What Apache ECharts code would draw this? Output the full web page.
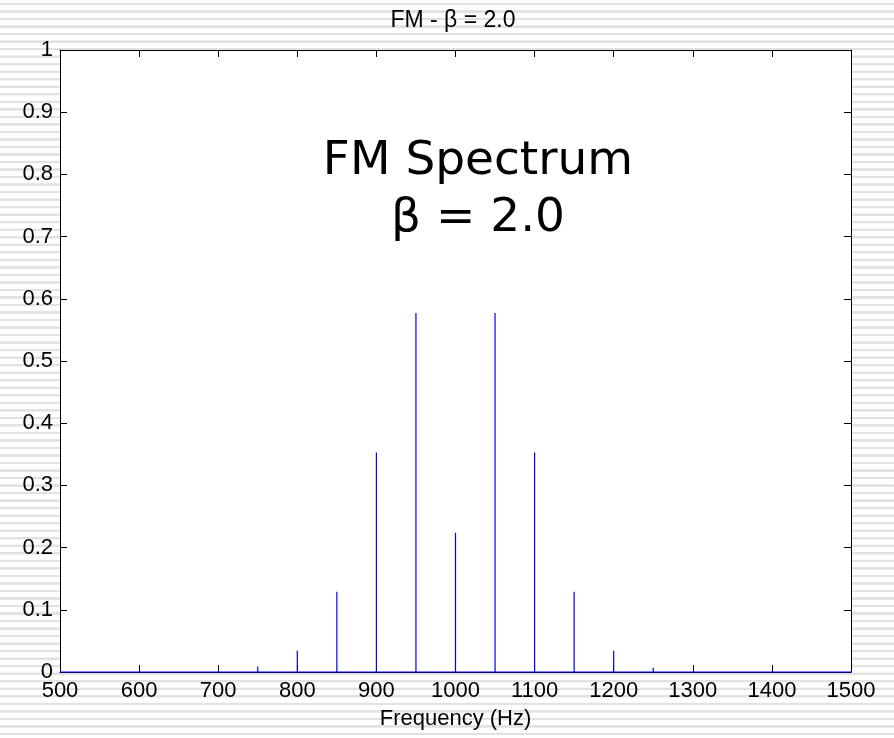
<!DOCTYPE html>
<html>
<head>
<meta charset="utf-8">
<script src="https://cdn.jsdelivr.net/npm/echarts@6/dist/echarts.min.js"></script>
<style>
  html, body { margin: 0; padding: 0; }
  body {
    width: 894px; height: 738px; overflow: hidden;
    background: repeating-linear-gradient(to bottom,
      #ffffff 0px, #ffffff 2.6px,
      #e2e2e2 3px, #e2e2e2 5px,
      #ffffff 5.4px, #ffffff 7.525px);
  }
  #chart { width: 894px; height: 738px; }
</style>
</head>
<body>
<div id="chart"></div>
<script>
// Spectral line frequencies (Hz) and their amplitudes for an FM tone, beta = 2.0
const lineFreqs = [750, 800, 850, 900, 950, 1000, 1050, 1100, 1150, 1200, 1250, 1350];
const lineAmps  = [0.009, 0.034, 0.129, 0.353, 0.577, 0.224, 0.577, 0.353, 0.129, 0.034, 0.007, 0.003];

// Frequency span and axis ticks
const freqMin = 500, freqMax = 1500, freqStep = 100;
const ampMin = 0, ampMax = 1, ampStep = 0.1;

// Build the trace: a zero baseline with a vertical spike at each line
const trace = [[freqMin, 0]];
lineFreqs.forEach((f, i) => {
  trace.push([f, 0], [f, lineAmps[i]], [f, 0]);
});
trace.push([freqMax, 0]);

const font = '"Liberation Sans", Arial, sans-serif';
const axisCommon = {
  type: 'value',
  axisLine: { show: true, onZero: false, lineStyle: { color: '#000', width: 1 } },
  axisTick: { show: true, inside: true, length: 7, lineStyle: { color: '#000', width: 1 } },
  splitLine: { show: false }
};

const chart = echarts.init(document.getElementById('chart'), null, { renderer: 'canvas' });
chart.setOption({
  animation: false,
  grid: { left: 60, right: 43, top: 50, bottom: 66, show: true, backgroundColor: '#ffffff', borderWidth: 0 },
  xAxis: [
    Object.assign({}, axisCommon, {
      position: 'bottom', min: freqMin, max: freqMax, interval: freqStep,
      axisLabel: { show: true, margin: 8, color: '#000', fontSize: 22, fontFamily: font,
        formatter: v => String(v) },
      name: 'Frequency (Hz)', nameLocation: 'middle', nameGap: 36,
      nameTextStyle: { color: '#000', fontSize: 22, fontFamily: font }
    }),
    Object.assign({}, axisCommon, {
      position: 'top', min: freqMin, max: freqMax, interval: freqStep,
      axisLabel: { show: false }
    })
  ],
  yAxis: [
    Object.assign({}, axisCommon, {
      position: 'left', min: ampMin, max: ampMax, interval: ampStep,
      axisLabel: { show: true, margin: 7, color: '#000', fontSize: 22, fontFamily: font,
        formatter: v => (Math.round(v * 10) / 10).toString() }
    }),
    Object.assign({}, axisCommon, {
      position: 'right', min: ampMin, max: ampMax, interval: ampStep,
      axisLabel: { show: false }
    })
  ],
  series: [{
    type: 'line',
    xAxisIndex: 0, yAxisIndex: 0,
    data: trace,
    showSymbol: false,
    z: 5,
    lineStyle: { color: '#0000ff', width: 1.2 },
    clip: false
  }],
  graphic: [
    {
      type: 'text', x: 453, y: 21, z: 10,
      style: { text: 'FM - β = 2.0', fill: '#000', font: '23px ' + font,
        textAlign: 'center', textVerticalAlign: 'middle' }
    },
    {
      type: 'text', x: 478, y: 162, z: 10,
      style: { text: 'FM Spectrum', fill: '#000', font: '47px "DejaVu Sans", sans-serif',
        textAlign: 'center', textVerticalAlign: 'middle' }
    },
    {
      type: 'text', x: 478, y: 219, z: 10,
      style: { text: 'β = 2.0', fill: '#000', font: '47px "DejaVu Sans", sans-serif',
        textAlign: 'center', textVerticalAlign: 'middle' }
    }
  ]
});
</script>
</body>
</html>
